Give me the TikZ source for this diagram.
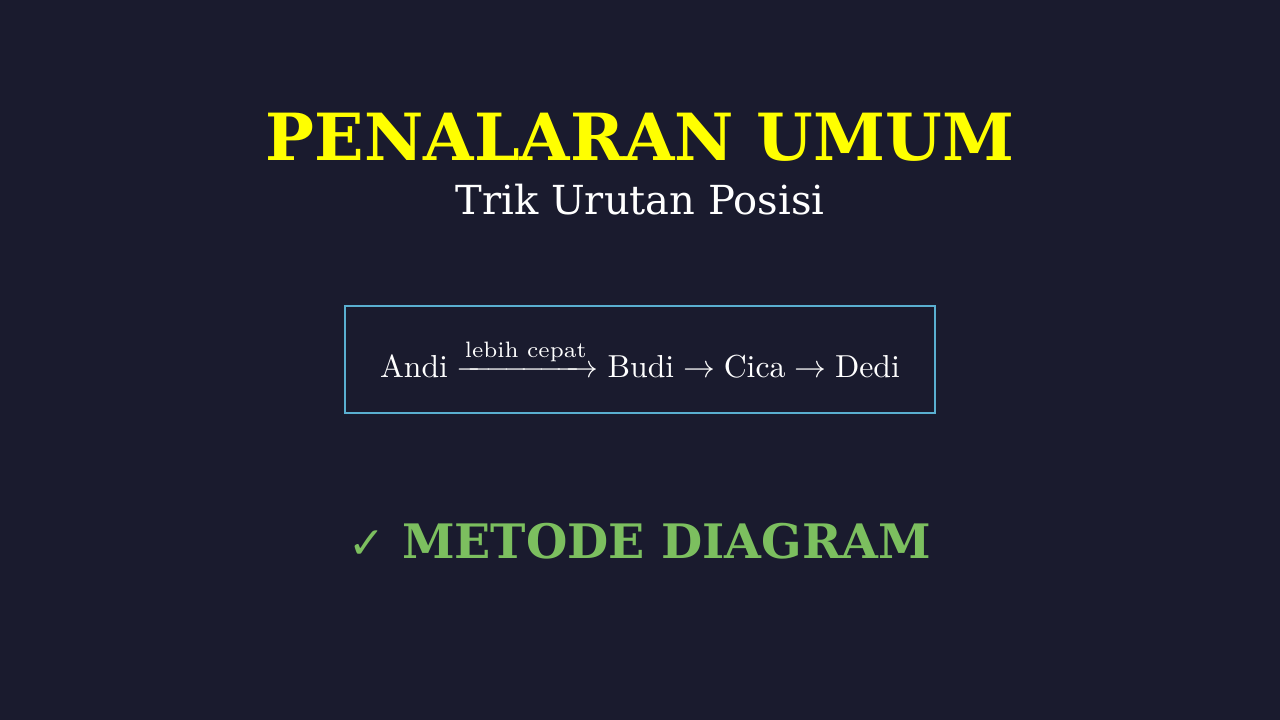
\documentclass[tikz,border=0pt]{standalone}
\usepackage{amsmath}
\usepackage{fontspec}
\newfontfamily\titlefont{DejaVu Serif}
\newfontfamily\checkfont{DejaVu Sans}
\definecolor{bgnavy}{HTML}{1A1B2E}
\definecolor{titleyellow}{HTML}{FFFF00}
\definecolor{boxblue}{HTML}{5AAFD0}
\definecolor{methodgreen}{HTML}{7CBF5F}

\begin{document}
\begin{tikzpicture}[x=1pt, y=-1pt]
\fill[bgnavy] (0,0) rectangle (1280,720);
\useasboundingbox (0,0) rectangle (1280,720);

\node[titleyellow, anchor=base, font=\titlefont\bfseries\fontsize{65}{72}\selectfont] (title) at (640,160) {PENALARAN UMUM};
\node[white, anchor=base, font=\titlefont\fontsize{40}{48}\selectfont] (subtitle) at (640,214) {Trik Urutan Posisi};

\draw[boxblue, line width=1.5pt] (345,306) rectangle (935,413);
\node[white, anchor=base, scale=3.18, transform shape] (order) at (640,377)
  {$\text{Andi} \xrightarrow{\text{lebih cepat}} \text{Budi} \rightarrow \text{Cica} \rightarrow \text{Dedi}$};

\node[methodgreen, anchor=base, font=\titlefont\bfseries\fontsize{47.5}{56}\selectfont] (method) at (640,558)
  {{\checkfont\mdseries\fontsize{44}{52}\selectfont ✓}\ METODE DIAGRAM};
\end{tikzpicture}
\end{document}
